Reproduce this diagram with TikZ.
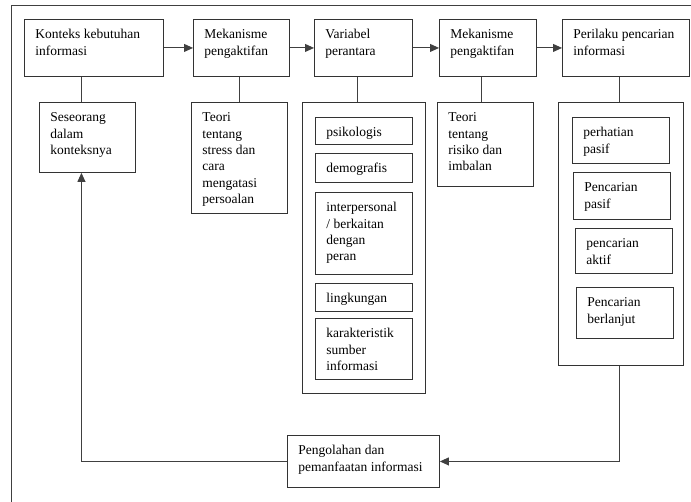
\documentclass[tikz,border=0pt]{standalone}
\usepackage{fontspec}
\setmainfont{Liberation Serif}
\usetikzlibrary{arrows.meta, calc}

% text set at the top left of a box of width #1 and height #2
\newcommand{\boxtext}[3]{\parbox[t][\dimexpr#2pt-16pt\relax][t]{\dimexpr#1pt-22pt\relax}{\raggedright\strut#3}}

\tikzset{
  box/.style={draw=black!80, line width=0.9pt, anchor=north west, inner xsep=11pt, inner ysep=8pt,
    font=\fontsize{13.5}{16.3}\selectfont},
  link/.style={draw=black!75, line width=0.9pt},
  arr/.style={link, -{Triangle[length=9pt, width=8pt]}},
  frame/.style={draw=black!75, line width=1pt}
}

\begin{document}
\begin{tikzpicture}[x=1pt, y=-1pt]

    \useasboundingbox (0,0) rectangle (691,502);

    % Outer frame (cut off at the right and at the bottom)
    \draw[frame] (11.7,502) -- (11.7,6) -- (691,6);

    % Top row
    \node[box] (konteks) at (24,19) {\boxtext{139}{57}{Konteks kebutuhan\\informasi}};
    \node[box] (mek1) at (193,19) {\boxtext{96}{57}{Mekanisme\\pengaktifan}};
    \node[box] (variabel) at (314,19) {\boxtext{98}{57}{Variabel\\perantara}};
    \node[box] (mek2) at (439,19) {\boxtext{97}{57}{Mekanisme\\pengaktifan}};
    \node[box] (perilaku) at (562,19) {\boxtext{127}{57}{Perilaku pencarian\\informasi}};

    % Boxes below the top row
    \node[box] (seseorang) at (39,102) {\boxtext{96}{70}{Seseorang\\dalam\\konteksnya}};
    \node[box] (teori1) at (191,102) {\boxtext{96}{111}{Teori\\tentang\\stress dan\\cara\\mengatasi\\persoalan}};
    \node[box] (varbox) at (302,102) {\boxtext{123}{291}{}};
    \node[box] (teori2) at (437,102) {\boxtext{96}{84}{Teori\\tentang\\risiko dan\\imbalan}};
    \node[box] (perilakubox) at (558,102) {\boxtext{125}{263}{}};

    % Variables inside the middle box
    \foreach \n/\y/\h/\txt in {psiko/117/26/psikologis, demo/153/29/demografis,
        inter/192/82/{interpersonal\\/ berkaitan\\dengan\\peran}, lingk/283/28/lingkungan,
        karak/318/61/{karakteristik\\sumber\\informasi}}
      \node[box] (\n) at (315,\y) {\boxtext{97}{\h}{\txt}};

    % Kinds of search inside the right box
    \foreach \n/\x/\y/\h/\txt in {perhatian/572/117/46/{perhatian\\pasif}, pasif/573/172/47/{Pencarian\\pasif},
        aktif/575/228/45/{pencarian\\aktif}, lanjut/576/287/51/{Pencarian\\berlanjut}}
      \node[box] (\n) at (\x,\y) {\boxtext{97}{\h}{\txt}};

    \node[box] (pengolahan) at (287,435) {\boxtext{152}{52}{Pengolahan dan\\pemanfaatan informasi}};

    % Arrows along the top row
    \foreach \a/\b in {konteks/mek1, mek1/variabel, variabel/mek2, mek2/perilaku}
      \draw[arr] (\a.east) -- (\b.west);

    % Lines down to the boxes below
    \foreach \a/\b/\s in {konteks/seseorang/-6, mek1/teori1/0, variabel/varbox/-7, mek2/teori2/-4, perilaku/perilakubox/-2}
      \draw[link] ($(\b.north)+(\s,0)$) -- ($(\b.north |- \a.south)+(\s,0)$);

    % Loop back
    \draw[arr] ($(perilakubox.south)+(-2,0)$) |- (pengolahan.east);
    \draw[arr] (pengolahan.west) -| ($(seseorang.south)+(-6,0)$);

\end{tikzpicture}
\end{document}
